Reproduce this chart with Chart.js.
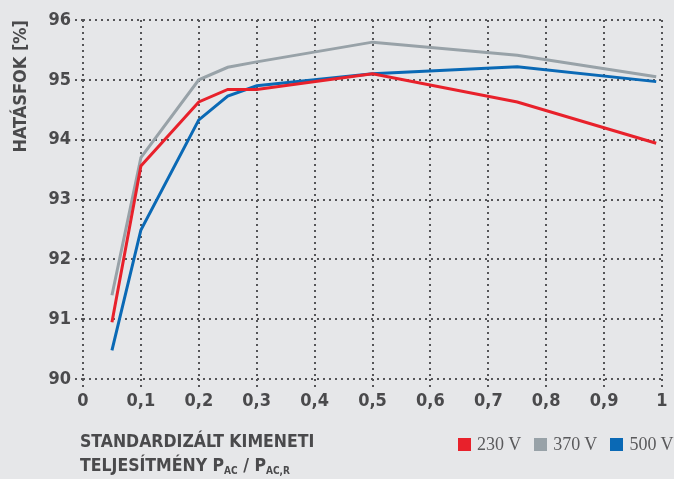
<!DOCTYPE html>
<html>
<head>
<meta charset="utf-8">
<script src="https://cdn.jsdelivr.net/npm/chart.js@4.4.0/dist/chart.umd.min.js"></script>
<style>
  html, body { margin: 0; padding: 0; background: #e6e7e9; }
  #wrap { position: relative; width: 674px; height: 479px; }
  #chart { position: absolute; left: 0; top: 0; }
  .xtitle {
    position: absolute; left: 80px; top: 429px;
    font-family: 'DejaVu Sans Condensed', 'DejaVu Sans', sans-serif;
    font-weight: bold; font-size: 17.5px; line-height: 24px; color: #4a4a4c;
  }
  .xtitle sub { font-size: 10px; vertical-align: -3px; }
  .legend {
    position: absolute; left: 458px; top: 434px;
    font-family: 'Liberation Serif', serif; font-size: 18px; color: #5a5a5c;
    display: flex; align-items: center; white-space: nowrap;
  }
  .legend span.box { display: inline-block; width: 13px; height: 13px; margin-right: 6px; }
  .legend span.item { margin-right: 13px; display: flex; align-items: center; }
</style>
</head>
<body>
<div id="wrap">
  <canvas id="chart" width="674" height="479"></canvas>
  <div class="xtitle">STANDARDIZÁLT KIMENETI<br>TELJESÍTMÉNY P<sub>AC</sub> / P<sub>AC,R</sub></div>
  <div class="legend" id="legend"></div>
</div>
<script>
// Data
const load = [0.05, 0.1, 0.2, 0.25, 0.3, 0.5, 0.75, 0.99];
const eff230 = [90.95, 93.56, 94.63, 94.84, 94.84, 95.1, 94.63, 93.94];
const eff370 = [91.4, 93.7, 95.0, 95.21, 95.3, 95.63, 95.41, 95.05];
const eff500 = [90.48, 92.49, 94.33, 94.73, 94.9, 95.1, 95.22, 94.97];
const seriesNames = ['230 V', '370 V', '500 V'];
const seriesColors = ['#e8212b', '#98a2a8', '#0a69b5'];

const gridColor = '#555558';
const tickFont = { family: 'DejaVu Sans Condensed', weight: 'bold', size: 18 };

function pts(ys) {
    return load.map((x, i) => ({ x: x, y: ys[i] }));
}

const datasets = [eff230, eff370, eff500].map((ys, i) => ({
    label: seriesNames[i],
    data: pts(ys),
    borderColor: seriesColors[i],
    borderWidth: 3,
    pointRadius: 0,
    fill: false,
    tension: 0
}));

// html legend
const legendEl = document.getElementById('legend');
seriesNames.forEach((name, i) => {
    const item = document.createElement('span');
    item.className = 'item';
    item.innerHTML = '<span class="box" style="background:' + seriesColors[i] + '"></span>' + name;
    legendEl.appendChild(item);
});

const gridOpts = {
    color: gridColor,
    lineWidth: 2,
    tickLength: 8,
    tickColor: gridColor,
    tickBorderDash: [2, 4]
};

new Chart(document.getElementById('chart').getContext('2d'), {
    type: 'line',
    data: { datasets: datasets },
    options: {
        responsive: false,
        animation: false,
        layout: { padding: { left: 0, top: 20, right: 12, bottom: 60 } },
        plugins: { legend: { display: false }, tooltip: { enabled: false } },
        scales: {
            x: {
                type: 'linear',
                min: 0, max: 1,
                afterFit: s => { s.height = 40; },
                ticks: {
                    stepSize: 0.1,
                    color: '#4a4a4c',
                    font: tickFont,
                    padding: 4,
                    callback: v => String(Math.round(v * 10) / 10).replace('.', ',')
                },
                border: { display: false, dash: [2, 4] },
                grid: gridOpts
            },
            y: {
                min: 90, max: 96,
                afterFit: s => { s.width = 83; },
                ticks: {
                    stepSize: 1,
                    color: '#4a4a4c',
                    font: tickFont,
                    padding: 4
                },
                border: { display: false, dash: [2, 4] },
                grid: gridOpts,
                title: {
                    display: true,
                    text: 'HATÁSFOK [%]',
                    align: 'end',
                    color: '#4a4a4c',
                    font: { family: 'DejaVu Sans Condensed', weight: 'bold', size: 18 },
                    padding: { top: 11, bottom: 0 }
                }
            }
        }
    }
});
</script>
</body>
</html>
